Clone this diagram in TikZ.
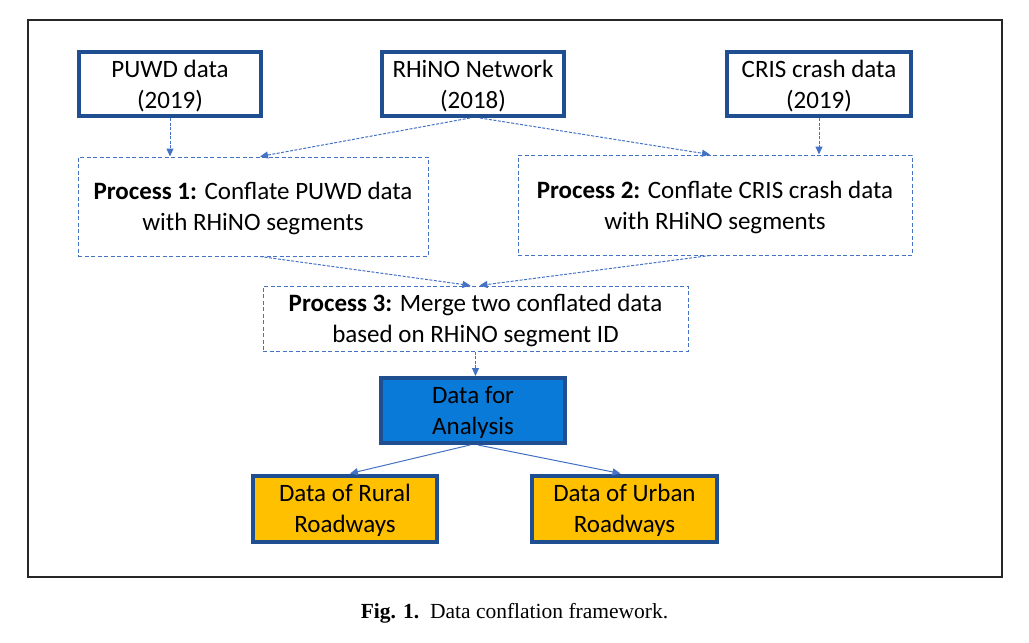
\documentclass[tikz,border=0pt]{standalone}
\usepackage{fontspec}
\setmainfont{Carlito}
\newfontfamily\capfont{Liberation Serif}
\usetikzlibrary{arrows.meta,calc}
\definecolor{bdark}{RGB}{31,78,145}
\definecolor{arr}{RGB}{68,114,196}
\definecolor{dfill}{RGB}{10,122,216}
\definecolor{ofill}{RGB}{255,192,0}
\begin{document}
\begin{tikzpicture}[x=1pt,y=-1pt,
  every node/.style={font=\fontsize{25}{31}\selectfont, align=center, inner sep=0pt, text depth=0pt},
  srcbox/.style={draw=bdark, line width=4pt, fill=white, text=black},
  procbox/.style={draw=arr, line width=1pt, dash pattern=on 4pt off 2.5pt, text=black},
  resbox/.style={draw=bdark, line width=4pt, text=black},
  con/.style={draw=arr, line width=1pt, -{Triangle[length=8pt,width=7pt]}},
  dcon/.style={con, dash pattern=on 3pt off 1.5pt}]
\useasboundingbox (0,0) rectangle (1029,643);
\draw[line width=1.5pt, draw=black!85] (28,20) rectangle (1002,577);
% sources
\node[srcbox, minimum width=182pt, minimum height=64pt] (puwd) at (170,84) {PUWD data\\(2019)};
\node[srcbox, minimum width=182pt, minimum height=64pt] (rhino) at (473,84) {RHiNO Network\\(2018)};
\node[srcbox, minimum width=184pt, minimum height=64pt] (cris) at (819,84) {CRIS crash data\\(2019)};
% processes
\node[procbox, minimum width=350pt, minimum height=99pt] (p1) at (253,206.5) {\textbf{Process 1:} Conflate PUWD data\\with RHiNO segments};
\node[procbox, minimum width=394pt, minimum height=100pt] (p2) at (715,205) {\textbf{Process 2:} Conflate CRIS crash data\\with RHiNO segments};
\node[procbox, minimum width=425pt, minimum height=65pt] (p3) at (475.5,318.5) {\textbf{Process 3:} Merge two conflated data\\based on RHiNO segment ID};
% results
\node[resbox, fill=dfill, minimum width=184pt, minimum height=65pt] (dfa) at (473,410.5) {Data for\\Analysis};
\node[resbox, fill=ofill, minimum width=184pt, minimum height=66pt] (rural) at (345,508.5) {Data of Rural\\Roadways};
\node[resbox, fill=ofill, minimum width=185pt, minimum height=66pt] (urban) at (624.5,508.5) {Data of Urban\\Roadways};
% connectors
\draw[dcon] (puwd.south) -- (p1.north -| puwd.south);
\draw[dcon] ([xshift=-3pt]rhino.south) -- ([xshift=7pt]p1.north);
\draw[dcon] ([xshift=7pt]rhino.south) -- ([xshift=-5pt]p2.north);
\draw[dcon] (cris.south) -- (p2.north -| cris.south);
\draw[dcon] ([xshift=7pt]p1.south) -- ([xshift=-5pt]p3.north);
\draw[dcon] ([xshift=-5pt]p2.south) -- ([xshift=4pt]p3.north);
\draw[dcon] (p3.south) -- (dfa.north -| p3.south);
\draw[con] ([xshift=-3pt]dfa.south) -- ([xshift=5pt]rural.north);
\draw[con] ([xshift=5pt]dfa.south) -- ([xshift=-4pt]urban.north);
% caption
\node[font=\capfont\fontsize{21.5}{25}\selectfont] (cap) at (514.5,611) {\textbf{Fig. 1.}\ \ Data conflation framework.};
\end{tikzpicture}
\end{document}
